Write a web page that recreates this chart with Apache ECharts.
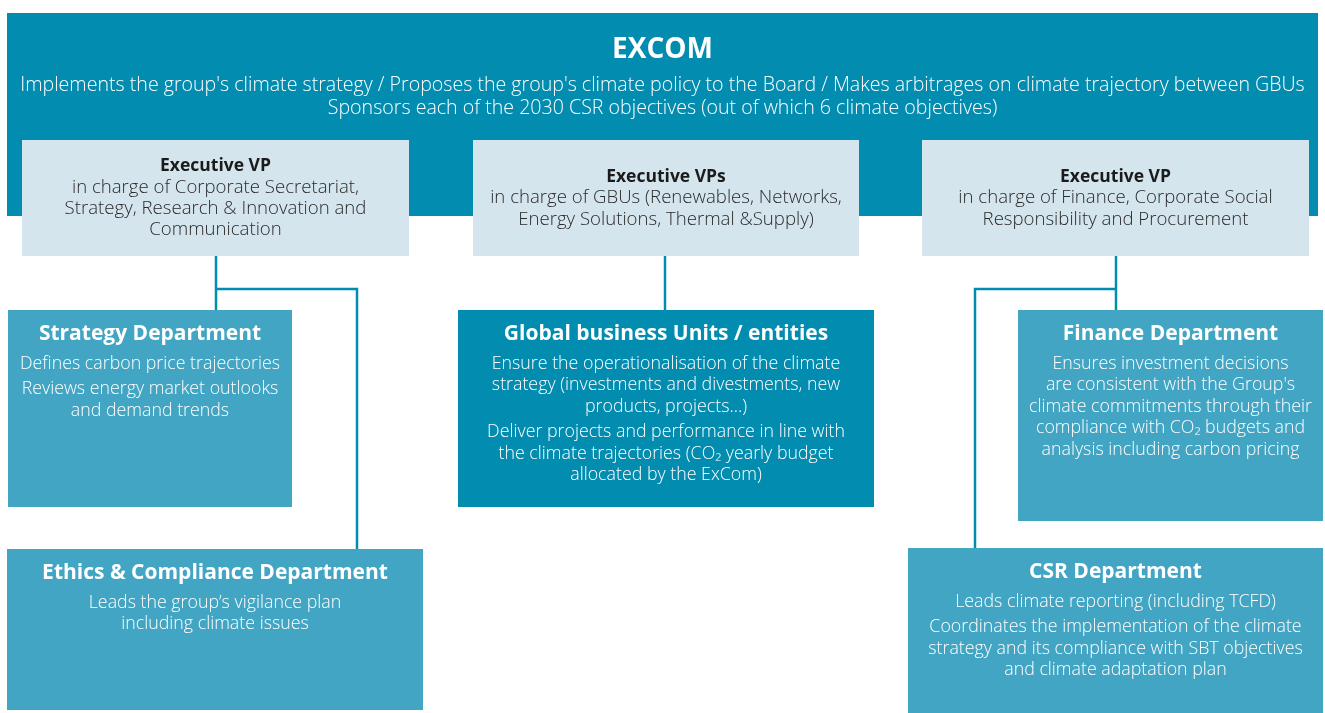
<!DOCTYPE html>
<html>
<head>
<meta charset="utf-8">
<script src="https://cdn.jsdelivr.net/npm/echarts@6/dist/echarts.min.js"></script>
<style>
  html, body { margin: 0; padding: 0; background: #fff; }
  #chart { width: 1325px; height: 713px; }
</style>
</head>
<body>
<div id="chart"></div>
<script>
// --- content ---
const excomTitle = 'EXCOM';
const excomLines = [
  "Implements the group's climate strategy / Proposes the group's climate policy to the Board / Makes arbitrages on climate trajectory between GBUs",
  'Sponsors each of the 2030 CSR objectives (out of which 6 climate objectives)'
];

const vpTitles = ['Executive VP', 'Executive VPs', 'Executive VP'];
const vpLines = [
  ['in charge of Corporate Secretariat,', 'Strategy, Research & Innovation and', 'Communication'],
  ['in charge of GBUs (Renewables, Networks,', 'Energy Solutions, Thermal &Supply)'],
  ['in charge of Finance, Corporate Social', 'Responsibility and Procurement']
];

const deptTitles = [
  'Strategy Department',
  'Ethics & Compliance Department',
  'Global business Units / entities',
  'Finance Department',
  'CSR Department'
];
const deptParas = [
  [['Defines carbon price trajectories'], ['Reviews energy market outlooks', 'and demand trends']],
  [['Leads the group\u2019s vigilance plan', 'including climate issues']],
  [['Ensure the operationalisation of the climate', 'strategy (investments and divestments, new', 'products, projects...)'],
   ['Deliver projects and performance in line with', 'the climate trajectories (CO\u2082 yearly budget', 'allocated by the ExCom)']],
  [['Ensures investment decisions', "are consistent with the Group's", 'climate commitments through their',
    'compliance with CO\u2082 budgets and', 'analysis including carbon pricing']],
  [['Leads climate reporting (including TCFD)'],
   ['Coordinates the implementation of the climate', 'strategy and its compliance with SBT objectives', 'and climate adaptation plan']]
];

// --- layout (x, y, w, h in page units) ---
const bandBox = [7, 13, 1311, 203];
const vpBoxes = [[22, 140, 387, 116], [473, 140, 386, 116], [922, 140, 387, 116]];
const deptBoxes = [[8, 310, 284, 197], [7, 549, 416, 161], [458, 310, 416, 197], [1018, 310, 305, 211], [908, 548, 415, 165]];
const connectors = [
  [[216, 256], [216, 310]],
  [[216, 289], [357, 289], [357, 549]],
  [[665, 256], [665, 310]],
  [[1116, 256], [1116, 310]],
  [[1116, 289], [975, 289], [975, 548]]
];

const FONT = "'Open Sans', 'Noto Sans', sans-serif";
const BLUE = '#028cb0';
const LIGHT = '#d5e5ee';
const MID = '#42a5c3';

function txt(text, x, y, size, weight, fill) {
  return {
    type: 'text',
    style: {
      text: text, x: x, y: y, fill: fill,
      fontSize: size, fontWeight: weight, fontFamily: FONT,
      align: 'center', verticalAlign: 'middle'
    }
  };
}

let chart = echarts.init(document.getElementById('chart'));

const boxData = [];
boxData.push(bandBox.concat(['band', 0]));
vpBoxes.forEach((b, i) => boxData.push(b.concat(['vp', i])));
deptBoxes.forEach((b, i) => boxData.push(b.concat(['dept', i])));

function renderBox(params, api) {
  const d = boxData[params.dataIndex];
  const kind = d[4], idx = d[5];
  const p = api.coord([d[0], d[1]]);
  const s = api.size([d[2], d[3]]);
  const cx = p[0] + s[0] / 2;
  const children = [];
  let fill = MID;
  if (kind === 'band') fill = BLUE;
  if (kind === 'vp') fill = LIGHT;
  if (kind === 'dept' && idx === 2) fill = BLUE;
  children.push({ type: 'rect', shape: { x: p[0], y: p[1], width: s[0], height: s[1] }, style: { fill: fill } });

  if (kind === 'band') {
    children.push(txt(excomTitle, cx, p[1] + 37, 28, 'bold', '#fff'));
    excomLines.forEach((l, i) => children.push(txt(l, cx, p[1] + 72 + i * 23, 19.6, 300, '#fff')));
  } else if (kind === 'vp') {
    const lines = [vpTitles[idx]].concat(vpLines[idx]);
    const lh = 21.3;
    const top = p[1] + s[1] / 2 - (lines.length - 1) * lh / 2;
    lines.forEach((l, i) => children.push(txt(l, cx, top + i * lh, i === 0 ? 17.5 : 18.6, i === 0 ? 'bold' : 300, i === 0 ? '#1b1b1b' : '#2a2a2a')));
  } else {
    children.push(txt(deptTitles[idx], cx, p[1] + 24, 21, 'bold', '#fff'));
    let y = p[1] + 54;
    deptParas[idx].forEach((para, pi) => {
      if (pi > 0) y += 4;
      para.forEach(l => { children.push(txt(l, cx, y, 17.8, 300, '#fff')); y += 21.4; });
    });
  }
  return { type: 'group', children: children };
}

function renderLine(params, api) {
  const pts = connectors[params.dataIndex].map(q => api.coord(q));
  return { type: 'polyline', shape: { points: pts }, style: { stroke: BLUE, lineWidth: 2.5, fill: null } };
}

let option = {
  animation: false,
  grid: { left: 0, right: 0, top: 0, bottom: 0 },
  xAxis: { type: 'value', min: 0, max: 1325, show: false },
  yAxis: { type: 'value', min: 0, max: 713, inverse: true, show: false },
  series: [
    {
      type: 'custom', z: 3,
      data: connectors.map(c => c[0]),
      renderItem: renderLine
    },
    {
      type: 'custom', z: 2,
      data: boxData.slice(0, 4).map(b => [b[0], b[1]]),
      renderItem: renderBox
    },
    {
      type: 'custom', z: 4,
      data: boxData.slice(4).map(b => [b[0], b[1]]),
      renderItem: (params, api) => renderBox({ dataIndex: params.dataIndex + 4 }, api)
    }
  ]
};
chart.setOption(option);
</script>
</body>
</html>
